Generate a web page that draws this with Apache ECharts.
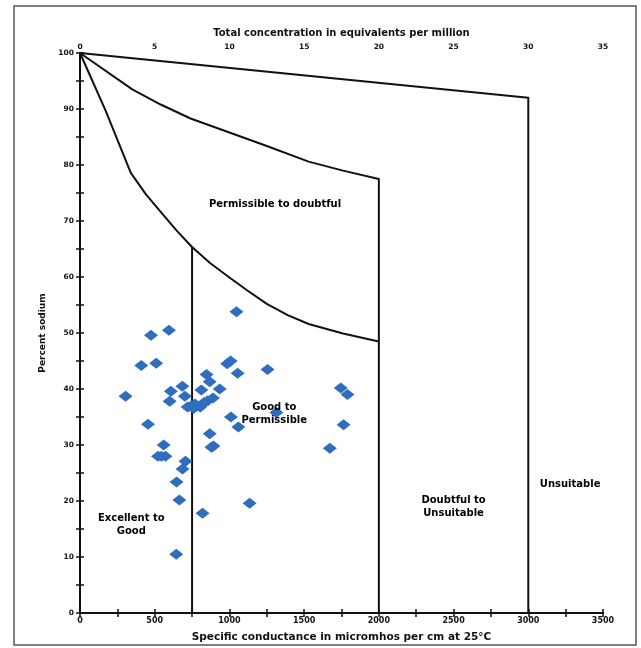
<!DOCTYPE html>
<html>
<head>
<meta charset="utf-8">
<script src="https://cdn.jsdelivr.net/npm/echarts@6/dist/echarts.min.js"></script>
<style>html,body{margin:0;padding:0;background:#fff;}#c{width:641px;height:648px;}</style>
</head>
<body>
<div id="c"></div>
<script>
// Sample points: specific conductance (micromhos/cm) and percent sodium
const conductance = [305,410,475,510,595,455,608,600,685,702,720,745,805,830,812,847,868,855,890,935,985,1008,1055,1047,1255,1010,1060,1314,868,893,880,560,522,572,706,686,646,665,820,1135,644,1745,1790,1764,1672,770,545,760];
const sodiumPct   = [38.7,44.2,49.6,44.6,50.5,33.7,39.6,37.8,40.5,38.7,36.8,37.0,36.8,37.6,39.8,42.6,41.3,37.9,38.4,40.0,44.5,45.0,42.8,53.8,43.5,35.0,33.2,35.8,32.0,29.8,29.6,30.0,28.0,28.0,27.1,25.7,23.4,20.2,17.8,19.6,10.5,40.2,39.0,33.6,29.4,37.3,28.0,36.5];

// Class boundaries (conductance, percent sodium)
const unsuitableLine = [[0,100],[3000,92],[3000,0]];
const doubtfulLine   = [[0,100],[350,93.5],[540,90.8],[740,88.3],[1000,85.8],[1250,83.4],[1530,80.6],[1760,79.0],[2000,77.5],[2000,0]];
const permissibleLine= [[0,100],[170,89.8],[340,78.6],[440,74.8],[550,71.3],[650,68.2],[748,65.4],[870,62.5],[1000,59.9],[1120,57.6],[1250,55.2],[1390,53.2],[1530,51.6],[1760,49.9],[2000,48.5]];
const goodLine       = [[750,65.4],[750,0]];

// Zone labels
const zoneLabels = [
  [1305,73.0,'Permissible to doubtful'],
  [1300,35.6,'Good to\nPermissible'],
  [343,15.7,'Excellent to\nGood'],
  [2500,19.0,'Doubtful to\nUnsuitable'],
  [3280,23.0,'Unsuitable']
];

const xTickLabels = ['0','500','1000','1500','2000','2500','3000','3500'];
const topTickLabels = ['0','5','10','15','20','25','30','35'];
const yTickLabels = ['0','10','20','30','40','50','60','70','80','90','100'];

const chart = echarts.init(document.getElementById('c'));
const FONT = 'DejaVu Sans';
const lineSeries = (d) => ({type:'line', data:d, symbol:'none', smooth:false, silent:true,
  lineStyle:{color:'#111', width:2, join:'round'}, z:2});

chart.setOption({
  animation:false,
  backgroundColor:'#fff',
  graphic:[{type:'rect', shape:{x:14,y:6,width:622,height:639}, style:{fill:'none', stroke:'#555', lineWidth:1.5}}],
  grid:{left:80, right:38, top:53, bottom:35, containLabel:false},
  xAxis:[{
    type:'value', min:0, max:3500, interval:250, position:'bottom',
    name:'Specific conductance in micromhos per cm at 25°C', nameLocation:'middle', nameGap:19,
    nameTextStyle:{fontFamily:FONT, fontWeight:'bold', fontSize:10.5, color:'#111'},
    axisLine:{lineStyle:{color:'#111', width:2}},
    axisTick:{inside:true, length:4, lineStyle:{color:'#111', width:1.5}},
    axisLabel:{fontFamily:FONT, fontWeight:'bold', fontSize:8, color:'#111', margin:4,
      formatter:v => (v % 500 === 0 ? xTickLabels[v/500] : '')},
    splitLine:{show:false}
  },{
    type:'value', min:0, max:35, interval:2.5, position:'top',
    name:'Total concentration in equivalents per million', nameLocation:'middle', nameGap:13,
    nameTextStyle:{fontFamily:FONT, fontWeight:'bold', fontSize:10, color:'#111'},
    axisLine:{lineStyle:{color:'#111', width:2}},
    axisTick:{inside:true, length:4, lineStyle:{color:'#111', width:1.5}},
    axisLabel:{fontFamily:FONT, fontWeight:'bold', fontSize:7.5, color:'#111', margin:2,
      formatter:v => (v % 5 === 0 ? topTickLabels[v/5] : '')},
    splitLine:{show:false}
  }],
  yAxis:[{
    type:'value', min:0, max:100, interval:5, position:'left',
    name:'Percent sodium', nameLocation:'middle', nameGap:28, nameRotate:90,
    nameTextStyle:{fontFamily:FONT, fontWeight:'bold', fontSize:9, color:'#111'},
    axisLine:{lineStyle:{color:'#111', width:2}},
    axisTick:{inside:true, length:4, lineStyle:{color:'#111', width:1.5}},
    axisLabel:{fontFamily:FONT, fontWeight:'bold', fontSize:7.5, color:'#111', margin:6,
      formatter:v => (v % 10 === 0 ? yTickLabels[v/10] : '')},
    splitLine:{show:false}
  },{
    type:'value', min:0, max:100, interval:5, position:'right',
    axisLine:{show:true, lineStyle:{color:'#111', width:2}},
    axisTick:{inside:true, length:4, lineStyle:{color:'#111', width:1.5}},
    axisLabel:{show:false}, splitLine:{show:false}
  }],
  series:[
    lineSeries(unsuitableLine),
    lineSeries(doubtfulLine),
    lineSeries(permissibleLine),
    lineSeries(goodLine),
    {
      type:'scatter', symbol:'diamond', symbolSize:[14,11],
      itemStyle:{color:'#2f6dbf', opacity:1}, z:5,
      data: conductance.map((c,i)=>[c, sodiumPct[i]])
    },
    {
      type:'scatter', symbolSize:1, itemStyle:{color:'#fff', opacity:0}, z:6, silent:true,
      data: zoneLabels.map(l=>({value:[l[0],l[1]], name:l[2]})),
      label:{show:true, position:'inside', formatter:p=>p.name, fontFamily:FONT,
        fontWeight:'bold', fontSize:10, color:'#000', opacity:1, lineHeight:13, align:'center'}
    }
  ]
});
</script>
</body>
</html>
